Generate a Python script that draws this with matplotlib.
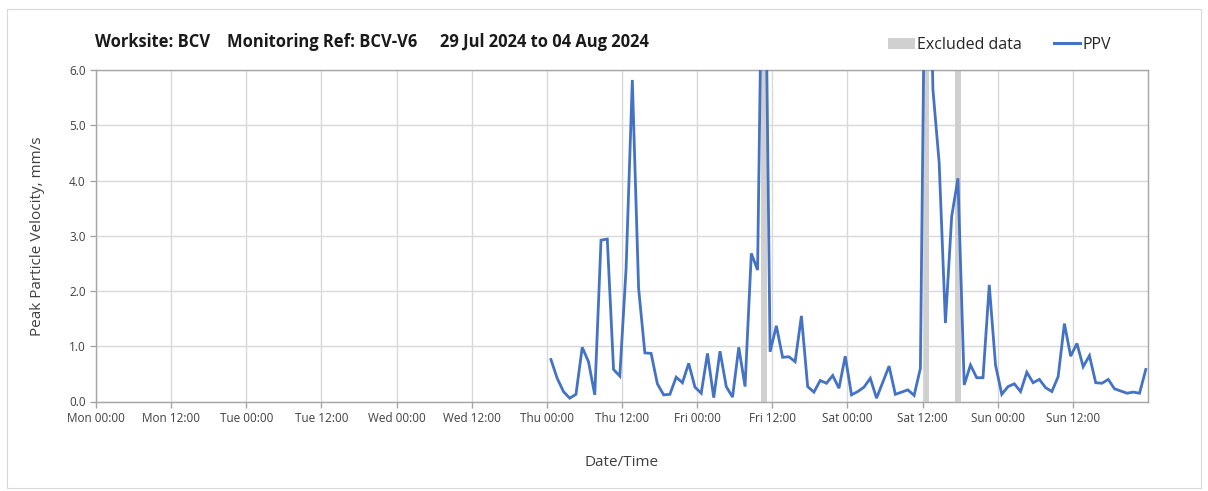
import matplotlib
matplotlib.use("Agg")
import matplotlib.pyplot as plt
from matplotlib.patches import Rectangle, Patch
from matplotlib.lines import Line2D
import numpy as np

plt.rcParams['font.family'] = ['Open Sans', 'DejaVu Sans']

# ---- data ----
tick_labels = ["Mon 00:00", "Mon 12:00", "Tue 00:00", "Tue 12:00", "Wed 00:00",
               "Wed 12:00", "Thu 00:00", "Thu 12:00", "Fri 00:00", "Fri 12:00",
               "Sat 00:00", "Sat 12:00", "Sun 00:00", "Sun 12:00"]
title_parts = ["Worksite: BCV", "Monitoring Ref: BCV-V6", "29 Jul 2024 to 04 Aug 2024"]
first_hour = 72.65   # hours after Mon 00:00 of first reading
ppv = [0.76, 0.42, 0.18, 0.06, 0.13, 0.98, 0.72, 0.12, 2.92, 2.94,
       0.58, 0.46, 2.40, 5.82, 2.05, 0.88, 0.87, 0.32, 0.12, 0.13,
       0.44, 0.34, 0.69, 0.26, 0.15, 0.87, 0.07, 0.91, 0.27, 0.08,
       0.98, 0.27, 2.68, 2.38, 10.7, 0.90, 1.37, 0.80, 0.81, 0.72,
       1.55, 0.27, 0.17, 0.38, 0.33, 0.47, 0.24, 0.82, 0.12, 0.18,
       0.26, 0.42, 0.06, 0.35, 0.64, 0.13, 0.17, 0.21, 0.11, 0.60,
       11.2, 5.65, 4.32, 1.42, 3.35, 4.04, 0.30, 0.66, 0.43, 0.43,
       2.11, 0.66, 0.13, 0.27, 0.32, 0.18, 0.53, 0.34, 0.40, 0.25,
       0.18, 0.45, 1.41, 0.82, 1.05, 0.63, 0.83, 0.34, 0.33, 0.40,
       0.23, 0.19, 0.15, 0.17, 0.15, 0.58]
excluded_idx = [34, 60, 65]

hours = first_hour + np.arange(len(ppv))

fig = plt.figure(figsize=(12.08, 4.91), dpi=100)
ax = fig.add_axes([96/1208, 1-401.5/491, (1148-96)/1208, (401.5-70)/491])

# frame around figure
fig.patches.append(Rectangle((7/1208, 1-488/491), (1201-7)/1208, (488-9)/491,
                             transform=fig.transFigure, fill=False,
                             edgecolor='#d9d9d9', linewidth=0.8))

for i in excluded_idx:
    ax.axvspan(hours[i]-0.45, hours[i]+0.45, color='#d0d0d0', zorder=1, lw=0)

ax.plot(hours, ppv, color='#4472C4', lw=2.0, zorder=3, solid_joinstyle='miter')

ax.set_xlim(0, 168)
ax.set_ylim(0, 6)
ax.set_xticks(np.arange(0, 168, 12))
ax.set_xticklabels(tick_labels)
ax.set_yticks(np.arange(0, 6.01, 1.0))
ax.set_yticklabels([f"{v:.1f}" for v in np.arange(0, 6.01, 1.0)])
ax.grid(True, color='#d9d9d9', lw=1.0, zorder=0)
ax.set_axisbelow(True)
for s in ax.spines.values():
    s.set_color('#a6a6a6')
    s.set_linewidth(1.0)
ax.tick_params(axis='both', colors='#a6a6a6', labelcolor='#404040',
               labelsize=8.5, length=4, width=1)

ax.set_ylabel("Peak Particle Velocity, mm/s", fontsize=11, color='#404040', labelpad=17)
ax.set_xlabel("Date/Time", fontsize=11, color='#404040', labelpad=22)

for xp, txt in zip([95, 227, 440], title_parts):
    fig.text(xp/1208, 1-42/491, txt, fontsize=11.9, fontweight='bold',
             color='#1a1a1a', va='center', ha='left')

handles = [Patch(facecolor='#d0d0d0', edgecolor='none'),
           Line2D([0], [0], color='#4472C4', lw=2.2)]
leg = fig.legend(handles, ["Excluded data", "PPV"], loc='center left',
                 bbox_to_anchor=(874/1208, 1-45/491), ncol=2, frameon=False,
                 fontsize=11.5, handlelength=1.65, handletextpad=0.15,
                 columnspacing=2.0, handleheight=0.75)
for t in leg.get_texts():
    t.set_color('#262626')

fig.savefig("out.png", dpi=100)
